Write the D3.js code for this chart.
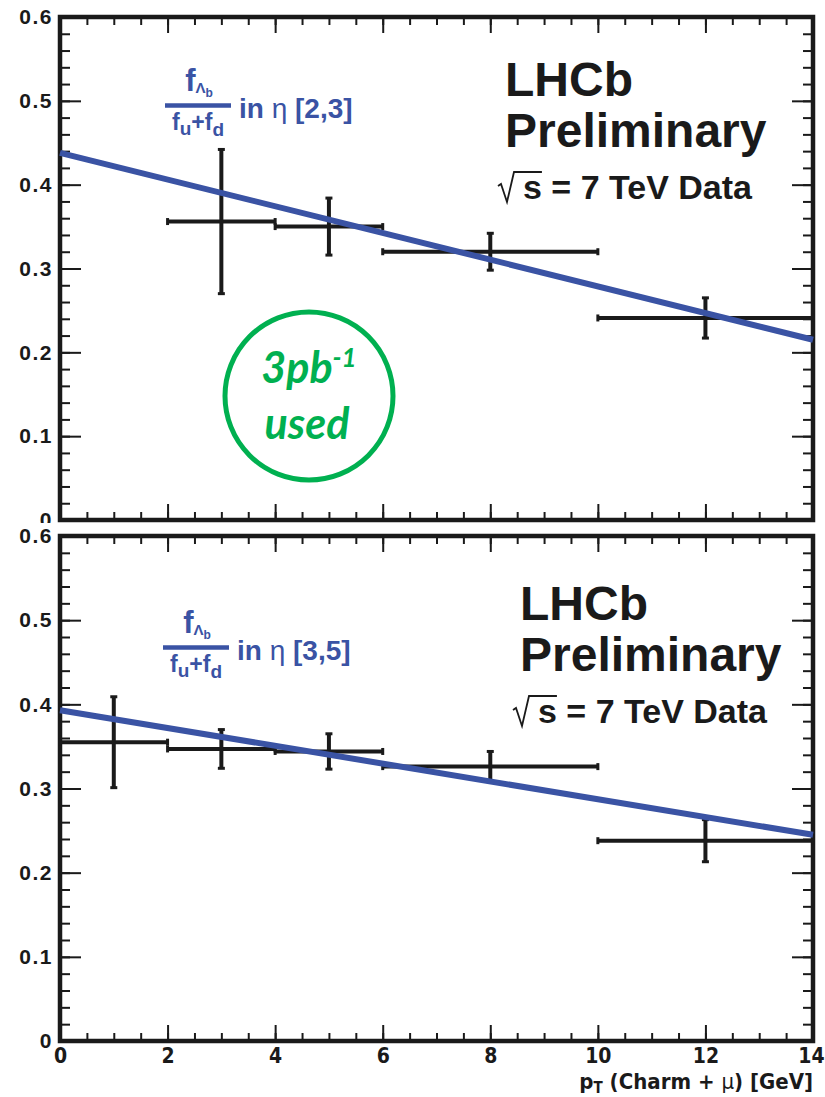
<!DOCTYPE html>
<html>
<head>
<meta charset="utf-8">
<script src="https://cdn.jsdelivr.net/npm/d3@7"></script>
<style>
body { margin: 0; background: #fff; }
svg { display: block; }
</style>
</head>
<body>
<svg id="chart" width="825" height="1097"></svg>
<script>
// x ticks / y ticks
var xMajor = [0, 2, 4, 6, 8, 10, 12, 14];
var yMajor = [0, 0.1, 0.2, 0.3, 0.4, 0.5, 0.6];

// eta in [2,3]
var eta23Lo = [2, 4, 6, 10];
var eta23Hi = [4, 6, 10, 14];
var eta23Mid = [3, 5, 8, 12];
var eta23Val = [0.356, 0.350, 0.320, 0.241];
var eta23Err = [0.086, 0.034, 0.022, 0.024];
var eta23Fit = [0.438, 0.215];

// eta in [3,5]
var eta35Lo = [0, 2, 4, 6, 10];
var eta35Hi = [2, 4, 6, 10, 14];
var eta35Mid = [1, 3, 5, 8, 12];
var eta35Val = [0.355, 0.347, 0.344, 0.326, 0.238];
var eta35Err = [0.054, 0.023, 0.021, 0.018, 0.025];
var eta35Fit = [0.393, 0.245];

var fitX = [0, 14];

var black = "#1a1a1a";
var blue = "#3a53a4";
var green = "#00b050";
var boldFont = "'Liberation Sans', Arial, sans-serif";
var narrowFont = "'DejaVu Sans Condensed', 'Liberation Sans Narrow', sans-serif";

var svg = d3.select("#chart");

var panels = [
    { lo: eta23Lo, hi: eta23Hi, mid: eta23Mid, val: eta23Val, err: eta23Err, fit: eta23Fit,
      top: 17, bottom: 520, eta: "[2,3]", lx: 0, ly: 0, tx: 505, ty: 96, xLabels: false },
    { lo: eta35Lo, hi: eta35Hi, mid: eta35Mid, val: eta35Val, err: eta35Err, fit: eta35Fit,
      top: 536, bottom: 1041, eta: "[3,5]", lx: -2, ly: 542, tx: 520, ty: 620, xLabels: true }
];

var x = d3.scaleLinear().domain([0, 14]).range([60, 813]);

panels.forEach(function (p, pi) {
    var g = svg.append("g");

    if (pi == 1) {
        // lower pad covers the bottom of the upper one
        g.append("rect").attr("x", 0).attr("y", 523).attr("width", 825).attr("height", 574).attr("fill", "#fff");
    }

    var y = d3.scaleLinear().domain([0, 0.6]).range([p.bottom, p.top]);
    var xMinor = d3.range(0, 14.001, 0.5);
    var yMinor = d3.range(0, 0.6001, 0.02);

    function axis(gen, pos, values, size, fmt) {
        var a = g.append("g")
            .attr("transform", pos)
            .call(gen.tickValues(values).tickSize(size).tickFormat(fmt));
        a.select(".domain").remove();
        a.selectAll("line").attr("stroke", black).attr("stroke-width", 2);
        return a;
    }
    var none = function () { return ""; };

    // minor ticks
    axis(d3.axisLeft(y), "translate(60,0)", yMinor, -10, none);
    axis(d3.axisRight(y), "translate(813,0)", yMinor, -10, none);
    axis(d3.axisTop(x), "translate(0," + p.top + ")", xMinor, -8, none);
    axis(d3.axisBottom(x), "translate(0," + p.bottom + ")", xMinor, -8, none);

    // major ticks
    var yl = axis(d3.axisLeft(y), "translate(60,0)", yMajor, -21, function (d) {
        return d === 0 ? "0" : d3.format(".1f")(d);
    }).call(function (s) { s.selectAll(".tick text").attr("x", -7); });
    yl.selectAll("text")
        .attr("fill", black)
        .style("font-family", boldFont)
        .style("font-weight", "bold")
        .style("font-size", "21px")
        .style("letter-spacing", "1.5px");
    axis(d3.axisRight(y), "translate(813,0)", yMajor, -21, none);
    axis(d3.axisTop(x), "translate(0," + p.top + ")", xMajor, -16, none);
    var xl = axis(d3.axisBottom(x), "translate(0," + p.bottom + ")", xMajor, -16,
        p.xLabels ? d3.format("d") : none);
    xl.selectAll("text")
        .attr("y", 7)
        .attr("dx", function (d) { return d == 14 ? -2 : 0; })
        .attr("fill", black)
        .style("font-family", narrowFont)
        .style("font-weight", "bold")
        .style("font-size", "21px");

    // frame
    g.append("rect")
        .attr("x", x(0)).attr("y", p.top)
        .attr("width", x(14) - x(0)).attr("height", p.bottom - p.top)
        .attr("fill", "none").attr("stroke", black).attr("stroke-width", 4.5);

    // error bars
    var pts = p.val.map(function (v, i) {
        return { lo: p.lo[i], hi: p.hi[i], mid: p.mid[i], v: v, e: p.err[i] };
    });
    var bars = g.append("g").attr("stroke", black).attr("stroke-width", 4);
    bars.selectAll("line.h").data(pts).enter().append("line")
        .attr("x1", function (d) { return x(d.lo); })
        .attr("x2", function (d) { return x(d.hi); })
        .attr("y1", function (d) { return y(d.v); })
        .attr("y2", function (d) { return y(d.v); });
    bars.selectAll("line.v").data(pts).enter().append("line")
        .attr("x1", function (d) { return x(d.mid); })
        .attr("x2", function (d) { return x(d.mid); })
        .attr("y1", function (d) { return y(d.v + d.e); })
        .attr("y2", function (d) { return y(d.v - d.e); });
    // little end marks
    pts.forEach(function (d) {
        [d.v + d.e, d.v - d.e].forEach(function (yy) {
            bars.append("line").attr("stroke-width", 3)
                .attr("x1", x(d.mid) - 3.5).attr("x2", x(d.mid) + 3.5)
                .attr("y1", y(yy)).attr("y2", y(yy));
        });
        [d.lo, d.hi].forEach(function (xx) {
            bars.append("line").attr("stroke-width", 3)
                .attr("x1", x(xx)).attr("x2", x(xx))
                .attr("y1", y(d.v) - 3.5).attr("y2", y(d.v) + 3.5);
        });
    });

    // fit
    var line = d3.line()
        .x(function (d, i) { return x(fitX[i]); })
        .y(function (d) { return y(d); });
    g.append("path").datum(p.fit)
        .attr("d", line)
        .attr("fill", "none").attr("stroke", blue).attr("stroke-width", 6);

    // blue fraction label
    var lab = g.append("g")
        .attr("transform", "translate(" + p.lx + "," + p.ly + ")")
        .attr("fill", blue)
        .style("font-family", boldFont)
        .style("font-weight", "bold");
    var num = lab.append("text").attr("x", 199).attr("y", 91)
        .attr("text-anchor", "middle").style("font-size", "31px");
    num.append("tspan").text("f");
    num.append("tspan").attr("dy", 2).style("font-size", "15px").text("\u039B");
    num.append("tspan").attr("dy", 4).style("font-size", "12px").text("b");
    lab.append("line").attr("x1", 165).attr("x2", 231).attr("y1", 105.5).attr("y2", 105.5)
        .attr("stroke", blue).attr("stroke-width", 4.5);
    var den = lab.append("text").attr("x", 198).attr("y", 130)
        .attr("text-anchor", "middle").style("font-size", "23px");
    den.append("tspan").text("f");
    den.append("tspan").attr("dy", 5).style("font-size", "19px").text("u");
    den.append("tspan").attr("dy", -5).text("+f");
    den.append("tspan").attr("dy", 6).style("font-size", "19px").text("d");
    var inEta = lab.append("text").attr("x", 239).attr("y", 118).style("font-size", "28px");
    inEta.append("tspan").text("in ");
    inEta.append("tspan").style("font-weight", "normal").text("\u03B7");
    inEta.append("tspan").text(" " + p.eta);

    // LHCb Preliminary
    var t = g.append("g").attr("fill", black)
        .style("font-family", boldFont).style("font-weight", "bold");
    t.append("text").attr("x", p.tx).attr("y", p.ty).style("font-size", "48px").text("LHCb");
    t.append("text").attr("x", p.tx).attr("y", p.ty + 51).style("font-size", "48px").text("Preliminary");
    var rx = p.tx - 7, ry = p.ty + 103;
    var sq = t.append("text").attr("x", rx + 25).attr("y", ry).style("font-size", "34px")
        .text("s = 7 TeV Data");
    var sEnd = sq.node().getEndPositionOfChar(0).x;
    t.append("path")
        .attr("d", "M" + rx + "," + (ry - 13) + "L" + (rx + 3) + "," + (ry - 15) +
            "L" + (rx + 9) + "," + (ry + 3) + "L" + (rx + 16) + "," + (ry - 27) +
            "L" + sEnd + "," + (ry - 27))
        .attr("fill", "none").attr("stroke", black).attr("stroke-width", 1.8);

    if (pi == 0) {
        var c = g.append("g");
        c.append("circle").attr("cx", 309).attr("cy", 396).attr("r", 84)
            .attr("fill", "none").attr("stroke", green).attr("stroke-width", 5);
        var l1 = c.append("text").attr("x", 309).attr("y", 383).attr("text-anchor", "middle")
            .attr("fill", green)
            .style("font-family", "Lato, 'Open Sans', sans-serif")
            .style("font-style", "italic").style("font-weight", "bold")
            .style("font-size", "43px");
        l1.append("tspan").text("3pb");
        l1.append("tspan").attr("dy", -16).style("font-size", "26px").text("-1");
        c.append("text").attr("x", 307).attr("y", 439).attr("text-anchor", "middle")
            .attr("fill", green)
            .style("font-family", "Lato, 'Open Sans', sans-serif")
            .style("font-style", "italic").style("font-weight", "bold")
            .style("font-size", "43px")
            .text("used");
    }

    if (p.xLabels) {
        var xt = g.append("text").attr("x", 813).attr("y", 1089).attr("text-anchor", "end")
            .attr("fill", black)
            .style("font-family", narrowFont).style("font-weight", "bold").style("font-size", "22px");
        xt.append("tspan").text("p");
        xt.append("tspan").attr("dy", 4).style("font-size", "15px").text("T");
        xt.append("tspan").attr("dy", -4).text(" (Charm + ");
        xt.append("tspan").style("font-weight", "normal").text("\u03BC");
        xt.append("tspan").text(") [GeV]");
    }
});
</script>
</body>
</html>
